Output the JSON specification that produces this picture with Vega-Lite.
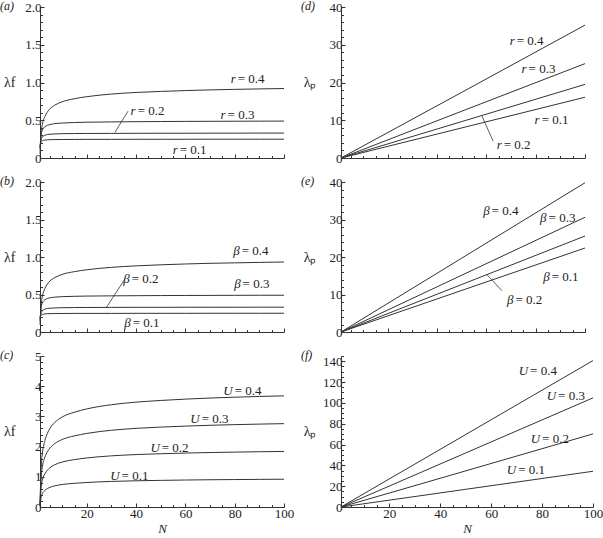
{
"$schema": "https://vega.github.io/schema/vega-lite/v6.json",
"padding": {"left": 0, "top": 0, "right": 0, "bottom": 0},
"config": {
 "font": "Liberation Serif",
 "view": {"stroke": null},
 "axis": {"grid": false, "domainColor": "#333", "tickColor": "#333", "labelColor": "#222", "labelFont": "Liberation Serif", "labelFontSize": 13, "labelOverlap": false, "labelFlush": false, "labelBound": false, "titleFont": "Liberation Serif", "titleFontWeight": "normal", "titleFontSize": 14, "titleColor": "#222", "domainWidth": 1, "tickWidth": 1},
 "axisY": {"titleAngle": 0, "titleAlign": "right", "titleBaseline": "middle", "labelPadding": 3, "minExtent": 20, "maxExtent": 20, "titlePadding": 5},
 "axisX": {"labelPadding": 4, "titleFontStyle": "italic", "titleFontSize": 13, "titlePadding": 1},
 "title": {"font": "Liberation Serif", "fontSize": 12, "fontWeight": "normal", "fontStyle": "italic", "anchor": "start", "frame": "group", "dx": -40, "offset": 0, "dy": 16, "baseline": "middle", "color": "#222"},
 "text": {"font": "Liberation Serif", "fontSize": 13, "color": "#222", "baseline": "middle"},
 "line": {"stroke": "#333", "strokeWidth": 1, "interpolate": "monotone"},
 "rule": {"stroke": "#333", "strokeWidth": 0.8}
},
"datasets": {
 "a": [
  {"N":1,"v":0.05,"s":"0.4"},{"N":1.5,"v":0.34,"s":"0.4"},{"N":2,"v":0.45,"s":"0.4"},{"N":3,"v":0.55,"s":"0.4"},{"N":4,"v":0.61,"s":"0.4"},{"N":5,"v":0.65,"s":"0.4"},{"N":7,"v":0.70,"s":"0.4"},{"N":10,"v":0.745,"s":"0.4"},{"N":15,"v":0.785,"s":"0.4"},{"N":20,"v":0.812,"s":"0.4"},{"N":30,"v":0.847,"s":"0.4"},{"N":40,"v":0.868,"s":"0.4"},{"N":50,"v":0.882,"s":"0.4"},{"N":60,"v":0.893,"s":"0.4"},{"N":70,"v":0.902,"s":"0.4"},{"N":80,"v":0.909,"s":"0.4"},{"N":90,"v":0.915,"s":"0.4"},{"N":100,"v":0.92,"s":"0.4"},
  {"N":1,"v":0.12,"s":"0.3"},{"N":1.5,"v":0.32,"s":"0.3"},{"N":2,"v":0.37,"s":"0.3"},{"N":3,"v":0.415,"s":"0.3"},{"N":4,"v":0.433,"s":"0.3"},{"N":5,"v":0.443,"s":"0.3"},{"N":7,"v":0.455,"s":"0.3"},{"N":10,"v":0.463,"s":"0.3"},{"N":15,"v":0.47,"s":"0.3"},{"N":20,"v":0.474,"s":"0.3"},{"N":30,"v":0.478,"s":"0.3"},{"N":40,"v":0.481,"s":"0.3"},{"N":50,"v":0.483,"s":"0.3"},{"N":60,"v":0.485,"s":"0.3"},{"N":70,"v":0.486,"s":"0.3"},{"N":80,"v":0.487,"s":"0.3"},{"N":90,"v":0.488,"s":"0.3"},{"N":100,"v":0.489,"s":"0.3"},
  {"N":1,"v":0.14,"s":"0.2"},{"N":1.5,"v":0.25,"s":"0.2"},{"N":2,"v":0.28,"s":"0.2"},{"N":3,"v":0.302,"s":"0.2"},{"N":4,"v":0.31,"s":"0.2"},{"N":5,"v":0.315,"s":"0.2"},{"N":7,"v":0.319,"s":"0.2"},{"N":10,"v":0.322,"s":"0.2"},{"N":15,"v":0.324,"s":"0.2"},{"N":20,"v":0.325,"s":"0.2"},{"N":30,"v":0.326,"s":"0.2"},{"N":40,"v":0.327,"s":"0.2"},{"N":50,"v":0.328,"s":"0.2"},{"N":60,"v":0.328,"s":"0.2"},{"N":70,"v":0.329,"s":"0.2"},{"N":80,"v":0.329,"s":"0.2"},{"N":90,"v":0.33,"s":"0.2"},{"N":100,"v":0.33,"s":"0.2"},
  {"N":1,"v":0.16,"s":"0.1"},{"N":1.5,"v":0.215,"s":"0.1"},{"N":2,"v":0.23,"s":"0.1"},{"N":3,"v":0.238,"s":"0.1"},{"N":4,"v":0.241,"s":"0.1"},{"N":5,"v":0.243,"s":"0.1"},{"N":7,"v":0.244,"s":"0.1"},{"N":10,"v":0.245,"s":"0.1"},{"N":15,"v":0.246,"s":"0.1"},{"N":20,"v":0.247,"s":"0.1"},{"N":30,"v":0.247,"s":"0.1"},{"N":40,"v":0.248,"s":"0.1"},{"N":50,"v":0.248,"s":"0.1"},{"N":60,"v":0.248,"s":"0.1"},{"N":70,"v":0.249,"s":"0.1"},{"N":80,"v":0.249,"s":"0.1"},{"N":90,"v":0.249,"s":"0.1"},{"N":100,"v":0.249,"s":"0.1"}
 ],
 "b": [
  {"N":1,"v":0.1,"s":"0.4"},{"N":1.5,"v":0.38,"s":"0.4"},{"N":2,"v":0.48,"s":"0.4"},{"N":3,"v":0.58,"s":"0.4"},{"N":4,"v":0.64,"s":"0.4"},{"N":5,"v":0.68,"s":"0.4"},{"N":7,"v":0.725,"s":"0.4"},{"N":10,"v":0.768,"s":"0.4"},{"N":15,"v":0.805,"s":"0.4"},{"N":20,"v":0.83,"s":"0.4"},{"N":30,"v":0.862,"s":"0.4"},{"N":40,"v":0.882,"s":"0.4"},{"N":50,"v":0.896,"s":"0.4"},{"N":60,"v":0.907,"s":"0.4"},{"N":70,"v":0.916,"s":"0.4"},{"N":80,"v":0.922,"s":"0.4"},{"N":90,"v":0.928,"s":"0.4"},{"N":100,"v":0.933,"s":"0.4"},
  {"N":1,"v":0.15,"s":"0.3"},{"N":1.5,"v":0.34,"s":"0.3"},{"N":2,"v":0.39,"s":"0.3"},{"N":3,"v":0.43,"s":"0.3"},{"N":4,"v":0.447,"s":"0.3"},{"N":5,"v":0.456,"s":"0.3"},{"N":7,"v":0.465,"s":"0.3"},{"N":10,"v":0.471,"s":"0.3"},{"N":15,"v":0.476,"s":"0.3"},{"N":20,"v":0.479,"s":"0.3"},{"N":30,"v":0.482,"s":"0.3"},{"N":40,"v":0.484,"s":"0.3"},{"N":50,"v":0.486,"s":"0.3"},{"N":60,"v":0.487,"s":"0.3"},{"N":70,"v":0.488,"s":"0.3"},{"N":80,"v":0.489,"s":"0.3"},{"N":90,"v":0.49,"s":"0.3"},{"N":100,"v":0.49,"s":"0.3"},
  {"N":1,"v":0.18,"s":"0.2"},{"N":1.5,"v":0.26,"s":"0.2"},{"N":2,"v":0.285,"s":"0.2"},{"N":3,"v":0.305,"s":"0.2"},{"N":4,"v":0.313,"s":"0.2"},{"N":5,"v":0.317,"s":"0.2"},{"N":7,"v":0.321,"s":"0.2"},{"N":10,"v":0.324,"s":"0.2"},{"N":15,"v":0.326,"s":"0.2"},{"N":20,"v":0.327,"s":"0.2"},{"N":30,"v":0.328,"s":"0.2"},{"N":40,"v":0.329,"s":"0.2"},{"N":50,"v":0.329,"s":"0.2"},{"N":60,"v":0.33,"s":"0.2"},{"N":70,"v":0.33,"s":"0.2"},{"N":80,"v":0.33,"s":"0.2"},{"N":90,"v":0.331,"s":"0.2"},{"N":100,"v":0.331,"s":"0.2"},
  {"N":1,"v":0.2,"s":"0.1"},{"N":1.5,"v":0.225,"s":"0.1"},{"N":2,"v":0.235,"s":"0.1"},{"N":3,"v":0.241,"s":"0.1"},{"N":4,"v":0.244,"s":"0.1"},{"N":5,"v":0.245,"s":"0.1"},{"N":7,"v":0.246,"s":"0.1"},{"N":10,"v":0.247,"s":"0.1"},{"N":15,"v":0.248,"s":"0.1"},{"N":20,"v":0.248,"s":"0.1"},{"N":30,"v":0.248,"s":"0.1"},{"N":40,"v":0.249,"s":"0.1"},{"N":50,"v":0.249,"s":"0.1"},{"N":60,"v":0.249,"s":"0.1"},{"N":70,"v":0.25,"s":"0.1"},{"N":80,"v":0.25,"s":"0.1"},{"N":90,"v":0.25,"s":"0.1"},{"N":100,"v":0.25,"s":"0.1"}
 ],
 "c": [
  {"N":1,"v":0.025,"s":"0.1"},{"N":1.5,"v":0.34,"s":"0.1"},{"N":2,"v":0.45,"s":"0.1"},{"N":3,"v":0.55,"s":"0.1"},{"N":4,"v":0.61,"s":"0.1"},{"N":5,"v":0.65,"s":"0.1"},{"N":7,"v":0.70,"s":"0.1"},{"N":10,"v":0.745,"s":"0.1"},{"N":15,"v":0.785,"s":"0.1"},{"N":20,"v":0.812,"s":"0.1"},{"N":30,"v":0.847,"s":"0.1"},{"N":40,"v":0.868,"s":"0.1"},{"N":50,"v":0.882,"s":"0.1"},{"N":60,"v":0.893,"s":"0.1"},{"N":70,"v":0.902,"s":"0.1"},{"N":80,"v":0.909,"s":"0.1"},{"N":90,"v":0.915,"s":"0.1"},{"N":100,"v":0.92,"s":"0.1"},
  {"N":1,"v":0.05,"s":"0.2"},{"N":1.5,"v":0.68,"s":"0.2"},{"N":2,"v":0.9,"s":"0.2"},{"N":3,"v":1.1,"s":"0.2"},{"N":4,"v":1.22,"s":"0.2"},{"N":5,"v":1.3,"s":"0.2"},{"N":7,"v":1.4,"s":"0.2"},{"N":10,"v":1.49,"s":"0.2"},{"N":15,"v":1.57,"s":"0.2"},{"N":20,"v":1.624,"s":"0.2"},{"N":30,"v":1.694,"s":"0.2"},{"N":40,"v":1.736,"s":"0.2"},{"N":50,"v":1.764,"s":"0.2"},{"N":60,"v":1.786,"s":"0.2"},{"N":70,"v":1.804,"s":"0.2"},{"N":80,"v":1.818,"s":"0.2"},{"N":90,"v":1.83,"s":"0.2"},{"N":100,"v":1.84,"s":"0.2"},
  {"N":1,"v":0.075,"s":"0.3"},{"N":1.5,"v":1.02,"s":"0.3"},{"N":2,"v":1.35,"s":"0.3"},{"N":3,"v":1.65,"s":"0.3"},{"N":4,"v":1.83,"s":"0.3"},{"N":5,"v":1.95,"s":"0.3"},{"N":7,"v":2.1,"s":"0.3"},{"N":10,"v":2.235,"s":"0.3"},{"N":15,"v":2.355,"s":"0.3"},{"N":20,"v":2.436,"s":"0.3"},{"N":30,"v":2.541,"s":"0.3"},{"N":40,"v":2.604,"s":"0.3"},{"N":50,"v":2.646,"s":"0.3"},{"N":60,"v":2.679,"s":"0.3"},{"N":70,"v":2.706,"s":"0.3"},{"N":80,"v":2.727,"s":"0.3"},{"N":90,"v":2.745,"s":"0.3"},{"N":100,"v":2.76,"s":"0.3"},
  {"N":1,"v":0.1,"s":"0.4"},{"N":1.5,"v":1.36,"s":"0.4"},{"N":2,"v":1.8,"s":"0.4"},{"N":3,"v":2.2,"s":"0.4"},{"N":4,"v":2.44,"s":"0.4"},{"N":5,"v":2.6,"s":"0.4"},{"N":7,"v":2.8,"s":"0.4"},{"N":10,"v":2.98,"s":"0.4"},{"N":15,"v":3.14,"s":"0.4"},{"N":20,"v":3.248,"s":"0.4"},{"N":30,"v":3.388,"s":"0.4"},{"N":40,"v":3.472,"s":"0.4"},{"N":50,"v":3.528,"s":"0.4"},{"N":60,"v":3.572,"s":"0.4"},{"N":70,"v":3.608,"s":"0.4"},{"N":80,"v":3.636,"s":"0.4"},{"N":90,"v":3.66,"s":"0.4"},{"N":100,"v":3.68,"s":"0.4"}
 ],
 "d": [
  {"N":1,"v":0,"s":"0.4"},{"N":50,"v":17.4,"s":"0.4"},{"N":100,"v":35.2,"s":"0.4"},
  {"N":1,"v":0,"s":"0.3"},{"N":50,"v":12.4,"s":"0.3"},{"N":100,"v":25.0,"s":"0.3"},
  {"N":1,"v":0,"s":"0.2"},{"N":50,"v":9.65,"s":"0.2"},{"N":100,"v":19.5,"s":"0.2"},
  {"N":1,"v":0,"s":"0.1"},{"N":50,"v":7.97,"s":"0.1"},{"N":100,"v":16.1,"s":"0.1"}
 ],
 "e": [
  {"N":1,"v":0,"s":"0.4"},{"N":50,"v":19.7,"s":"0.4"},{"N":100,"v":39.8,"s":"0.4"},
  {"N":1,"v":0,"s":"0.3"},{"N":50,"v":15.15,"s":"0.3"},{"N":100,"v":30.6,"s":"0.3"},
  {"N":1,"v":0,"s":"0.2"},{"N":50,"v":12.67,"s":"0.2"},{"N":100,"v":25.6,"s":"0.2"},
  {"N":1,"v":0,"s":"0.1"},{"N":50,"v":11.09,"s":"0.1"},{"N":100,"v":22.4,"s":"0.1"}
 ],
 "f": [
  {"N":1,"v":0,"s":"0.4"},{"N":50,"v":69.6,"s":"0.4"},{"N":100,"v":140.6,"s":"0.4"},
  {"N":1,"v":0,"s":"0.3"},{"N":50,"v":51.9,"s":"0.3"},{"N":100,"v":104.8,"s":"0.3"},
  {"N":1,"v":0,"s":"0.2"},{"N":50,"v":34.7,"s":"0.2"},{"N":100,"v":70.2,"s":"0.2"},
  {"N":1,"v":0,"s":"0.1"},{"N":50,"v":17.0,"s":"0.1"},{"N":100,"v":34.3,"s":"0.1"}
 ],
 "lab": [
  {"p":"a","N":80.4,"v":1.05,"t":"r","u":"=\u00a00.4"},
  {"p":"a","N":76.3,"v":0.57,"t":"r","u":"=\u00a00.3"},
  {"p":"a","N":39.8,"v":0.62,"t":"r","u":"=\u00a00.2"},
  {"p":"a","N":56.9,"v":0.10,"t":"r","u":"=\u00a00.1"},
  {"p":"b","N":82.0,"v":1.08,"t":"β","u":"=\u00a00.4"},
  {"p":"b","N":82.4,"v":0.64,"t":"β","u":"=\u00a00.3"},
  {"p":"b","N":37.4,"v":0.71,"t":"β","u":"=\u00a00.2"},
  {"p":"b","N":37.8,"v":0.12,"t":"β","u":"=\u00a00.1"},
  {"p":"c","N":79.2,"v":3.84,"t":"U","u":"=\u00a00.4"},
  {"p":"c","N":65.8,"v":2.91,"t":"U","u":"=\u00a00.3"},
  {"p":"c","N":49.6,"v":1.95,"t":"U","u":"=\u00a00.2"},
  {"p":"c","N":33.3,"v":1.03,"t":"U","u":"=\u00a00.1"},
  {"p":"d","N":71.5,"v":31.0,"t":"r","u":"=\u00a00.4"},
  {"p":"d","N":76.3,"v":23.6,"t":"r","u":"=\u00a00.3"},
  {"p":"d","N":66.2,"v":3.4,"t":"r","u":"=\u00a00.2"},
  {"p":"d","N":81.6,"v":10.1,"t":"r","u":"=\u00a00.1"},
  {"p":"e","N":61.3,"v":32.2,"t":"β","u":"=\u00a00.4"},
  {"p":"e","N":84.4,"v":30.3,"t":"β","u":"=\u00a00.3"},
  {"p":"e","N":71.0,"v":8.6,"t":"β","u":"=\u00a00.2"},
  {"p":"e","N":85.7,"v":14.8,"t":"β","u":"=\u00a00.1"},
  {"p":"f","N":74.5,"v":130.4,"t":"U","u":"=\u00a00.4"},
  {"p":"f","N":85.5,"v":106.4,"t":"U","u":"=\u00a00.3"},
  {"p":"f","N":79.2,"v":65.2,"t":"U","u":"=\u00a00.2"},
  {"p":"f","N":69.8,"v":35.5,"t":"U","u":"=\u00a00.1"}
 ],
 "ptr": [
  {"p":"a","N":36.7,"v":0.62,"N2":31.4,"v2":0.34},
  {"p":"b","N":35.5,"v":0.71,"N2":27.8,"v2":0.32},
  {"p":"d","N":62.7,"v":4.5,"N2":58.2,"v2":11.1},
  {"p":"e","N":66.3,"v":11.0,"N2":60.2,"v2":15.3}
 ]
},
"columns": 2,
"spacing": {"row": 24, "column": 57},
"bounds": "flush",
"concat": [
  {"width": 244, "height": 151, "title": {"text": "(a)"},
   "encoding": {
    "x": {"field": "N", "type": "quantitative", "scale": {"domain": [1, 100], "nice": false, "zero": false}, "axis": {"values": [5,10,15,20,25,30,35,40,45,50,55,60,65,70,75,80,85,90,95,100], "labels": false, "title": null, "tickSize": {"condition": {"test": "datum.value % 20 === 0", "value": -4}, "value": -2.5}}},
    "y": {"field": "v", "type": "quantitative", "scale": {"domain": [0, 2], "nice": false}, "axis": {"title": "λf", "values": [0,0.1,0.2,0.3,0.4,0.5,0.6,0.7,0.8,0.9,1,1.1,1.2,1.3,1.4,1.5,1.6,1.7,1.8,1.9,2], "labelExpr": "abs(datum.value*2-round(datum.value*2))<0.001 ? (datum.value==0 ? '0' : format(datum.value, '.1f')) : ''", "tickSize": {"condition": {"test": "abs(datum.value*2-round(datum.value*2))<0.001", "value": -4}, "value": -2.5}}}
   },
   "layer": [
    {"data": {"name": "a"}, "mark": "line", "encoding": {"detail": {"field": "s"}}},
    {"data": {"name": "lab"}, "transform": [{"filter": "datum.p == 'a'"}], "mark": {"type": "text", "align": "right", "fontStyle": "italic"}, "encoding": {"text": {"field": "t"}}},
    {"data": {"name": "lab"}, "transform": [{"filter": "datum.p == 'a'"}], "mark": {"type": "text", "align": "left", "dx": 2}, "encoding": {"text": {"field": "u"}}},
    {"data": {"name": "ptr"}, "transform": [{"filter": "datum.p == 'a'"}], "mark": "rule", "encoding": {"x2": {"field": "N2"}, "y2": {"field": "v2"}}}
   ]},
  {"width": 244, "height": 151, "title": {"text": "(d)"},
   "encoding": {
    "x": {"field": "N", "type": "quantitative", "scale": {"domain": [1, 100], "nice": false, "zero": false}, "axis": {"values": [5,10,15,20,25,30,35,40,45,50,55,60,65,70,75,80,85,90,95,100], "labels": false, "title": null, "tickSize": {"condition": {"test": "datum.value % 20 === 0", "value": -4}, "value": -2.5}}},
    "y": {"field": "v", "type": "quantitative", "scale": {"domain": [0, 40], "nice": false}, "axis": {"title": "λₚ", "values": [0,2,4,6,8,10,12,14,16,18,20,22,24,26,28,30,32,34,36,38,40], "labelExpr": "datum.value % 10 === 0 ? datum.label : ''", "tickSize": {"condition": {"test": "datum.value % 10 === 0", "value": -4}, "value": -2.5}}}
   },
   "layer": [
    {"data": {"name": "d"}, "mark": {"type": "line", "interpolate": "linear"}, "encoding": {"detail": {"field": "s"}}},
    {"data": {"name": "lab"}, "transform": [{"filter": "datum.p == 'd'"}], "mark": {"type": "text", "align": "right", "fontStyle": "italic"}, "encoding": {"text": {"field": "t"}}},
    {"data": {"name": "lab"}, "transform": [{"filter": "datum.p == 'd'"}], "mark": {"type": "text", "align": "left", "dx": 2}, "encoding": {"text": {"field": "u"}}},
    {"data": {"name": "ptr"}, "transform": [{"filter": "datum.p == 'd'"}], "mark": "rule", "encoding": {"x2": {"field": "N2"}, "y2": {"field": "v2"}}}
   ]},
  {"width": 244, "height": 150, "title": {"text": "(b)"},
   "encoding": {
    "x": {"field": "N", "type": "quantitative", "scale": {"domain": [1, 100], "nice": false, "zero": false}, "axis": {"values": [5,10,15,20,25,30,35,40,45,50,55,60,65,70,75,80,85,90,95,100], "labels": false, "title": null, "tickSize": {"condition": {"test": "datum.value % 20 === 0", "value": -4}, "value": -2.5}}},
    "y": {"field": "v", "type": "quantitative", "scale": {"domain": [0, 2], "nice": false}, "axis": {"title": "λf", "values": [0,0.1,0.2,0.3,0.4,0.5,0.6,0.7,0.8,0.9,1,1.1,1.2,1.3,1.4,1.5,1.6,1.7,1.8,1.9,2], "labelExpr": "abs(datum.value*2-round(datum.value*2))<0.001 ? (datum.value==0 ? '0' : format(datum.value, '.1f')) : ''", "tickSize": {"condition": {"test": "abs(datum.value*2-round(datum.value*2))<0.001", "value": -4}, "value": -2.5}}}
   },
   "layer": [
    {"data": {"name": "b"}, "mark": "line", "encoding": {"detail": {"field": "s"}}},
    {"data": {"name": "lab"}, "transform": [{"filter": "datum.p == 'b'"}], "mark": {"type": "text", "align": "right", "fontStyle": "italic"}, "encoding": {"text": {"field": "t"}}},
    {"data": {"name": "lab"}, "transform": [{"filter": "datum.p == 'b'"}], "mark": {"type": "text", "align": "left", "dx": 2}, "encoding": {"text": {"field": "u"}}},
    {"data": {"name": "ptr"}, "transform": [{"filter": "datum.p == 'b'"}], "mark": "rule", "encoding": {"x2": {"field": "N2"}, "y2": {"field": "v2"}}}
   ]},
  {"width": 244, "height": 150, "title": {"text": "(e)"},
   "encoding": {
    "x": {"field": "N", "type": "quantitative", "scale": {"domain": [1, 100], "nice": false, "zero": false}, "axis": {"values": [5,10,15,20,25,30,35,40,45,50,55,60,65,70,75,80,85,90,95,100], "labels": false, "title": null, "tickSize": {"condition": {"test": "datum.value % 20 === 0", "value": -4}, "value": -2.5}}},
    "y": {"field": "v", "type": "quantitative", "scale": {"domain": [0, 40], "nice": false}, "axis": {"title": "λₚ", "values": [0,2,4,6,8,10,12,14,16,18,20,22,24,26,28,30,32,34,36,38,40], "labelExpr": "datum.value % 10 === 0 ? datum.label : ''", "tickSize": {"condition": {"test": "datum.value % 10 === 0", "value": -4}, "value": -2.5}}}
   },
   "layer": [
    {"data": {"name": "e"}, "mark": {"type": "line", "interpolate": "linear"}, "encoding": {"detail": {"field": "s"}}},
    {"data": {"name": "lab"}, "transform": [{"filter": "datum.p == 'e'"}], "mark": {"type": "text", "align": "right", "fontStyle": "italic"}, "encoding": {"text": {"field": "t"}}},
    {"data": {"name": "lab"}, "transform": [{"filter": "datum.p == 'e'"}], "mark": {"type": "text", "align": "left", "dx": 2}, "encoding": {"text": {"field": "u"}}},
    {"data": {"name": "ptr"}, "transform": [{"filter": "datum.p == 'e'"}], "mark": "rule", "encoding": {"x2": {"field": "N2"}, "y2": {"field": "v2"}}}
   ]},
  {"width": 244, "height": 151, "title": {"text": "(c)"},
   "encoding": {
    "x": {"field": "N", "type": "quantitative", "scale": {"domain": [1, 100], "nice": false, "zero": false}, "axis": {"values": [5,10,15,20,25,30,35,40,45,50,55,60,65,70,75,80,85,90,95,100], "title": "N", "labelExpr": "datum.value % 20 === 0 ? datum.label : ''", "tickSize": {"condition": {"test": "datum.value % 20 === 0", "value": -4}, "value": -2.5}}},
    "y": {"field": "v", "type": "quantitative", "scale": {"domain": [0, 5], "nice": false}, "axis": {"title": "λf", "values": [0,0.2,0.4,0.6,0.8,1,1.2,1.4,1.6,1.8,2,2.2,2.4,2.6,2.8,3,3.2,3.4,3.6,3.8,4,4.2,4.4,4.6,4.8,5], "labelExpr": "abs(datum.value-round(datum.value))<0.001 ? format(datum.value, 'd') : ''", "tickSize": {"condition": {"test": "abs(datum.value-round(datum.value))<0.001", "value": -4}, "value": -2.5}}}
   },
   "layer": [
    {"data": {"name": "c"}, "mark": "line", "encoding": {"detail": {"field": "s"}}},
    {"data": {"name": "lab"}, "transform": [{"filter": "datum.p == 'c'"}], "mark": {"type": "text", "align": "right", "fontStyle": "italic"}, "encoding": {"text": {"field": "t"}}},
    {"data": {"name": "lab"}, "transform": [{"filter": "datum.p == 'c'"}], "mark": {"type": "text", "align": "left", "dx": 2}, "encoding": {"text": {"field": "u"}}}
   ]},
  {"width": 252, "height": 151, "title": {"text": "(f)"},
   "encoding": {
    "x": {"field": "N", "type": "quantitative", "scale": {"domain": [1, 100], "nice": false, "zero": false}, "axis": {"values": [5,10,15,20,25,30,35,40,45,50,55,60,65,70,75,80,85,90,95,100], "title": "N", "labelExpr": "datum.value % 20 === 0 ? datum.label : ''", "tickSize": {"condition": {"test": "datum.value % 20 === 0", "value": -4}, "value": -2.5}}},
    "y": {"field": "v", "type": "quantitative", "scale": {"domain": [0, 145], "nice": false}, "axis": {"title": "λₚ", "values": [0,5,10,15,20,25,30,35,40,45,50,55,60,65,70,75,80,85,90,95,100,105,110,115,120,125,130,135,140,145], "labelExpr": "datum.value % 20 === 0 ? datum.label : ''", "tickSize": {"condition": {"test": "datum.value % 20 === 0", "value": -4}, "value": -2.5}}}
   },
   "layer": [
    {"data": {"name": "f"}, "mark": {"type": "line", "interpolate": "linear"}, "encoding": {"detail": {"field": "s"}}},
    {"data": {"name": "lab"}, "transform": [{"filter": "datum.p == 'f'"}], "mark": {"type": "text", "align": "right", "fontStyle": "italic"}, "encoding": {"text": {"field": "t"}}},
    {"data": {"name": "lab"}, "transform": [{"filter": "datum.p == 'f'"}], "mark": {"type": "text", "align": "left", "dx": 2}, "encoding": {"text": {"field": "u"}}}
   ]}
]
}
